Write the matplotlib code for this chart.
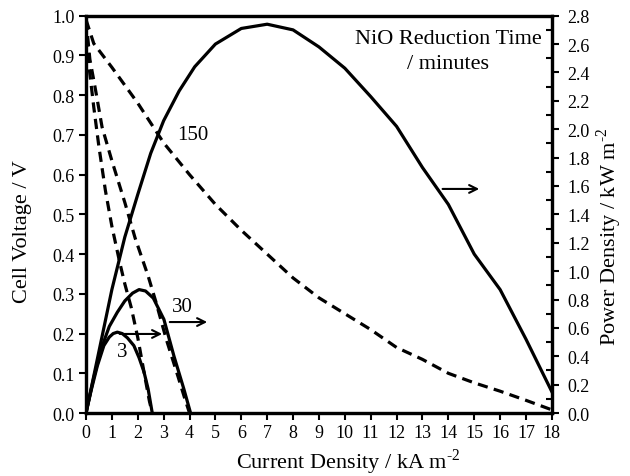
import numpy as np
import matplotlib
matplotlib.use('Agg')
import matplotlib.pyplot as plt
from matplotlib.ticker import MultipleLocator

plt.rcParams['font.family'] = ['Liberation Serif', 'DejaVu Serif']
plt.rcParams['mathtext.fontset'] = 'custom'
plt.rcParams['mathtext.rm'] = 'Liberation Serif'

# cell voltage (V) vs current density (kA m-2)
iv_3 = [0, 0.12, 0.3, 0.5, 0.75, 1.0, 1.3, 1.5, 1.75, 2.0, 2.25, 2.45, 2.56]
v_3 = [0.99, 0.87, 0.77, 0.67, 0.56, 0.47, 0.38, 0.325, 0.265, 0.19, 0.10, 0.03, 0.0]
iv_30 = [0, 0.15, 0.35, 0.62, 1.0, 1.5, 1.9, 2.4, 2.7, 3.1, 3.55, 3.8, 4.0]
v_30 = [0.99, 0.89, 0.82, 0.72, 0.635, 0.53, 0.44, 0.345, 0.28, 0.186, 0.093, 0.04, 0.0]
iv_150 = [0, 0.3, 1, 2, 3, 4, 5, 6, 7, 8, 9, 10, 11, 12, 13, 14, 15, 16, 17, 18]
v_150 = [0.99, 0.93, 0.87, 0.78, 0.68, 0.60, 0.525, 0.46, 0.40, 0.34, 0.29, 0.25,
         0.21, 0.165, 0.135, 0.10, 0.076, 0.055, 0.032, 0.008]

# power density (kW m-2) vs current density (kA m-2)
ip_3 = [0, 0.2, 0.44, 0.69, 0.9, 1.05, 1.21, 1.4, 1.6, 1.85, 2.05, 2.24, 2.4, 2.56]
p_3 = [0, 0.16, 0.333, 0.475, 0.535, 0.56, 0.57, 0.56, 0.53, 0.475, 0.39, 0.29, 0.17, 0.0]
ip_30 = [0, 0.3, 0.6, 0.9, 1.21, 1.5, 1.8, 2.05, 2.3, 2.6, 3.01, 3.4, 3.78, 4.04]
p_30 = [0, 0.25, 0.46, 0.61, 0.71, 0.79, 0.845, 0.87, 0.86, 0.81, 0.66, 0.40, 0.17, 0.0]
ip_150 = [0, 0.3, 1, 1.5, 2, 2.5, 3, 3.6, 4.2, 5, 6, 7, 8, 9, 10, 11, 12, 13, 14, 15,
          16, 17, 18]
p_150 = [0, 0.26, 0.87, 1.24, 1.54, 1.83, 2.06, 2.27, 2.44, 2.6, 2.71, 2.74, 2.70,
         2.58, 2.43, 2.23, 2.02, 1.73, 1.47, 1.12, 0.87, 0.52, 0.15]

fig = plt.figure(figsize=(6.3, 4.77), dpi=100)
ax = fig.add_axes([0.1365, 0.132, 0.7395, 0.833])
ax2 = ax.twinx()

lw = 2.3
dash = (3.2, 2.0)
for i, v in [(iv_3, v_3), (iv_30, v_30), (iv_150, v_150)]:
    ax.plot(i, v, color='black', lw=lw, linestyle=(0, dash))
for i, p in [(ip_3, p_3), (ip_30, p_30), (ip_150, p_150)]:
    ax2.plot(i, p, color='black', lw=lw)

ax.set_xlim(0, 18)
ax.set_ylim(0, 1.0)
ax2.set_ylim(0, 2.8)
ax.xaxis.set_major_locator(MultipleLocator(1))
ax.yaxis.set_major_locator(MultipleLocator(0.1))
ax2.yaxis.set_major_locator(MultipleLocator(0.2))
ax2.yaxis.set_minor_locator(MultipleLocator(0.1))
ax.yaxis.set_major_formatter(plt.FormatStrFormatter('%.1f'))
ax2.yaxis.set_major_formatter(plt.FormatStrFormatter('%.1f'))

for a in (ax, ax2):
    for s in a.spines.values():
        s.set_linewidth(2.3)
ax.tick_params(axis='both', direction='out', length=5, width=1.5, labelsize=13, pad=3)
ax2.tick_params(axis='y', which='major', direction='out', length=5, width=1.5, labelsize=13, pad=6)
ax2.tick_params(axis='y', which='minor', direction='in', length=4, width=1.5)

ax.set_xlabel('Current Density / kA m$^{\\text{-2}}$', fontsize=16)
ax.set_ylabel('Cell Voltage / V', fontsize=16)
ax2.set_ylabel('Power Density / kW m$^{\\text{-2}}$', fontsize=16)
ax.xaxis.set_label_coords(0.562, -0.085)
ax.yaxis.set_label_coords(-0.115, 0.46)
ax2.yaxis.set_label_coords(1.092, 0.446)

# arrows pointing to the power axis
arrow = dict(arrowstyle='->', color='black', lw=1.5, mutation_scale=14)
ax.annotate('', xy=(15.3, 0.564), xytext=(13.67, 0.564), arrowprops=arrow)
ax.annotate('', xy=(4.79, 0.229), xytext=(3.13, 0.229), arrowprops=arrow)
ax.annotate('', xy=(3.05, 0.199), xytext=(1.2, 0.199), arrowprops=arrow)

ax.text(4.13, 0.70, '150', fontsize=15, ha='center', va='center')
ax.text(3.74, 0.267, '30', fontsize=15, ha='center', va='center')
ax.text(1.39, 0.154, '3', fontsize=15, ha='center', va='center')
ax.text(14.0, 0.912, 'NiO Reduction Time\n/ minutes', fontsize=16,
        ha='center', va='center', linespacing=1.45)

fig.savefig('out.png', dpi=100)
